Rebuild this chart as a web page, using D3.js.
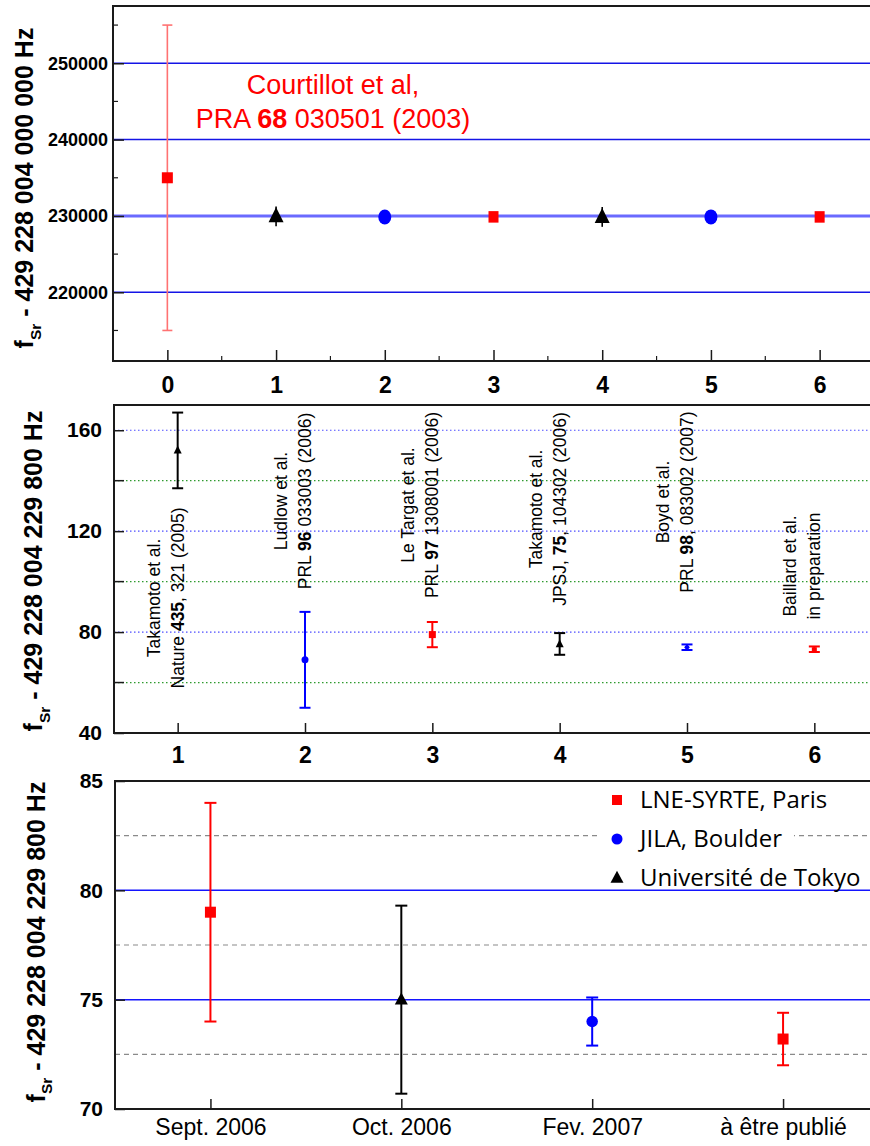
<!DOCTYPE html>
<html><head><meta charset="utf-8">
<script src="https://cdn.jsdelivr.net/npm/d3@7"></script>
<style>body{margin:0;background:#fff}svg{display:block}</style>
</head><body><svg id="c" width="870" height="1146"></svg>
<script>
// ---------- DATA ----------
const topX = [0, 1, 2, 3, 4, 5, 6];
const topValues = [235000, 229952, 229869, 229879, 229875, 229874, 229873];
const topErrors = [20000, 1300, 0, 0, 1300, 0, 0];
const topGroups = ["LNE", "Tokyo", "JILA", "LNE", "Tokyo", "JILA", "LNE"];
const topYTicks = [220000, 230000, 240000, 250000];
const topXTicks = [0, 1, 2, 3, 4, 5, 6];

const midX = [1, 2, 3, 4, 5, 6];
const midValues = [152, 69, 79, 75.3, 74, 73.2];
const midErrors = [15, 19, 5, 4.3, 1.1, 1.1];
const midGroups = ["Tokyo", "JILA", "LNE", "Tokyo", "JILA", "LNE"];
const midYTicks = [40, 80, 120, 160];
const midBlueGrid = [80, 120, 160];
const midGreenGrid = [60, 100, 140];
const midRefLine1 = ["Takamoto et al.", "Ludlow et al.", "Le Targat et al.", "Takamoto et al.", "Boyd et al.", "Baillard et al."];
const midRefLine2 = ["Nature **435**, 321 (2005)", "PRL **96** 033003 (2006)", "PRL **97** 1308001 (2006)", "JPSJ, **75**, 104302 (2006)", "PRL **98**, 083002 (2007)", "in preparation"];

const botCats = ["Sept. 2006", "Oct. 2006", "Fev. 2007", "à être publié"];
const botValues = [79, 75, 74, 73.2];
const botErrors = [5, 4.3, 1.1, 1.2];
const botGroups = ["LNE", "Tokyo", "JILA", "LNE"];
const botYTicks = [70, 75, 80, 85];
const botBlueGrid = [75, 80];
const botGreyGrid = [72.5, 77.5, 82.5];
const botXTicks = [1, 2, 3, 4];

const legendKeys = ["LNE", "JILA", "Tokyo"];
const legendLabels = ["LNE-SYRTE, Paris", "JILA, Boulder", "Université de Tokyo"];

// ---------- STYLE / LAYOUT ----------
const colors = {LNE: "#ff0000", JILA: "#0000ff", Tokyo: "#000000"};
const refCenterY = [598, 501, 505, 509, 502, 566]; // pixel centres of rotated labels
const svg = d3.select("#c");

function marker(g, type, x, y, s, color) {
  if (type === "LNE") {
    g.append("rect").attr("x", x - s.sq[0] / 2).attr("y", y - s.sq[1] / 2)
      .attr("width", s.sq[0]).attr("height", s.sq[1]).attr("fill", color);
  } else if (type === "JILA") {
    g.append("ellipse").attr("cx", x).attr("cy", y).attr("rx", s.ci[0] / 2).attr("ry", s.ci[1] / 2).attr("fill", color);
  } else {
    const w = s.tr[0], h = s.tr[1];
    g.append("path").attr("d", `M${x},${y - h * 0.6}L${x + w / 2},${y + h * 0.4}L${x - w / 2},${y + h * 0.4}Z`).attr("fill", color);
  }
}

function frame(g, L, R, T, B) {
  g.append("rect").attr("x", L).attr("y", T).attr("width", R - L).attr("height", B - T)
    .attr("fill", "none").attr("stroke", "#1a1a1a").attr("stroke-width", 2);
}

function styleAxis(ax, size, weight) {
  ax.select(".domain").remove();
  ax.selectAll("line").attr("stroke", "#1a1a1a").attr("stroke-width", 1.5);
  ax.selectAll("text").attr("font-family", "Liberation Sans, Arial, sans-serif")
    .attr("font-size", size).attr("font-weight", weight).attr("fill", "#000");
}

function yTitle(x, yc, size, rest) {
  const t = svg.append("text").attr("transform", `translate(${x},${yc}) rotate(-90)`)
    .attr("text-anchor", "middle").attr("font-family", "Liberation Sans, Arial, sans-serif")
    .attr("font-weight", "bold").attr("font-size", size);
  t.append("tspan").text("f");
  t.append("tspan").attr("font-size", size * 0.62).attr("dy", size * 0.3).text("Sr");
  t.append("tspan").attr("dy", -size * 0.3).text(" - " + rest);
}

function errBars(g, xs, ys, errs, groups, x, y, capFn, width, colorFn) {
  xs.forEach((d, i) => {
    if (!errs[i]) return;
    const c = colorFn(groups[i]);
    const cap = capFn(i);
    const px = x(d), y1 = y(ys[i] + errs[i]), y2 = y(ys[i] - errs[i]);
    g.append("line").attr("x1", px).attr("x2", px).attr("y1", y1).attr("y2", y2).attr("stroke", c).attr("stroke-width", width);
    if (cap > 0) {
      [y1, y2].forEach(yy => g.append("line").attr("x1", px - cap / 2).attr("x2", px + cap / 2)
        .attr("y1", yy).attr("y2", yy).attr("stroke", c).attr("stroke-width", width));
    }
  });
}

// ---------- TOP PANEL ----------
{
  const L = 113, R = 874, T = 6, B = 361;
  const x = d3.scaleLinear().domain([-0.5, 6.5]).range([L, R]);
  const y = d3.scaleLinear().domain([211000, 257500]).range([B, T]);
  const g = svg.append("g");
  topYTicks.forEach(v => {
    g.append("line").attr("x1", L).attr("x2", R).attr("y1", y(v)).attr("y2", y(v))
      .attr("stroke", v === 230000 ? "#6a6aff" : "#1414e6").attr("stroke-width", v === 230000 ? 3 : 1.5);
  });
  d3.range(215000, 257000, 10000).forEach(v => g.append("line").attr("x1", L).attr("x2", L + 5)
    .attr("y1", y(v)).attr("y2", y(v)).attr("stroke", "#1a1a1a").attr("stroke-width", 1.2));
  d3.range(-0.5, 6.6, 1).forEach(v => g.append("line").attr("x1", x(v)).attr("x2", x(v))
    .attr("y1", B).attr("y2", B - 5).attr("stroke", "#1a1a1a").attr("stroke-width", 1.2));
  const ay = g.append("g").attr("transform", `translate(${L},0)`)
    .call(d3.axisLeft(y).tickValues(topYTicks).tickSize(-11).tickPadding(5).tickFormat(d3.format("d")));
  styleAxis(ay, 18, "bold");
  const ax = g.append("g").attr("transform", `translate(0,${B})`)
    .call(d3.axisBottom(x).tickValues(topXTicks).tickSize(-11).tickPadding(16).tickFormat(d3.format("d")));
  styleAxis(ax, 23, "bold");
  errBars(g, topX, topValues, topErrors, topGroups, x, y, i => topErrors[i] > 5000 ? 10 : 0, 1.6,
    k => k === "LNE" ? "#ff7272" : colors[k]);
  const s = {sq: [11, 11], ci: [13, 15], tr: [15, 15]};
  topX.forEach((d, i) => {
    const sz = (topGroups[i] === "LNE" && i > 0) ? {sq: [10, 11.5]} : s;
    marker(g, topGroups[i], x(d), y(topValues[i]), Object.assign({}, s, sz), colors[topGroups[i]]);
  });
  const ann = g.append("text").attr("text-anchor", "middle").attr("fill", "#ff0000")
    .attr("font-family", "Liberation Sans, Arial, sans-serif").attr("font-size", 27);
  ann.append("tspan").attr("x", 333).attr("y", 94).text("Courtillot et al,");
  ann.append("tspan").attr("x", 333).attr("y", 128).text("PRA ");
  ann.append("tspan").attr("font-weight", "bold").text("68");
  ann.append("tspan").text(" 030501 (2003)");
  frame(g, L, R, T, B);
  yTitle(33, 188, 25, "429 228 004 000 000 Hz");
}

// ---------- MIDDLE PANEL ----------
{
  const L = 114, R = 878, T = 405, B = 733;
  const x = d3.scaleLinear().domain([0.5, 6.5]).range([L, R]);
  const y = d3.scaleLinear().domain([40, 170]).range([B, T]);
  const g = svg.append("g");
  midBlueGrid.forEach(v => g.append("line").attr("x1", L).attr("x2", R).attr("y1", y(v)).attr("y2", y(v))
    .attr("stroke", "#4d4dff").attr("stroke-width", 1.2).attr("stroke-dasharray", "1.5,2.5"));
  midGreenGrid.forEach(v => g.append("line").attr("x1", L).attr("x2", R).attr("y1", y(v)).attr("y2", y(v))
    .attr("stroke", "#2e9a2e").attr("stroke-width", 1.2).attr("stroke-dasharray", "1.5,2.5"));
  d3.range(60, 161, 40).forEach(v => g.append("line").attr("x1", L).attr("x2", L + 10)
    .attr("y1", y(v)).attr("y2", y(v)).attr("stroke", "#1a1a1a").attr("stroke-width", 1.5));
  const ay = g.append("g").attr("transform", `translate(${L},0)`)
    .call(d3.axisLeft(y).tickValues(midYTicks).tickSize(-10).tickPadding(12));
  styleAxis(ay, 21, "bold");
  const ax = g.append("g").attr("transform", `translate(0,${B})`)
    .call(d3.axisBottom(x).tickValues(midX).tickSize(-10).tickPadding(14).tickFormat(d3.format("d")));
  styleAxis(ax, 23, "bold");
  midX.forEach((d, i) => {
    [[midRefLine1[i], -18], [midRefLine2[i], 6]].forEach(([txt, off]) => {
      const t = g.append("text").attr("transform", `translate(${x(d) + off},${refCenterY[i]}) rotate(-90)`)
        .attr("text-anchor", "middle").attr("font-family", "Liberation Sans, Arial, sans-serif")
        .attr("font-size", 17.5).attr("fill", "#000");
      txt.split("**").forEach((part, j) => {
        if (part) t.append("tspan").attr("font-weight", j % 2 ? "bold" : "normal").text(part);
      });
    });
  });
  errBars(g, midX, midValues, midErrors, midGroups, x, y, () => 11, 2, k => colors[k]);
  const s = {sq: [7, 7], ci: [7, 7], tr: [8, 8]};
  midX.forEach((d, i) => {
    const small = midErrors[i] < 2 ? {sq: [5, 4], ci: [5, 4], tr: [5, 4]} : s;
    marker(g, midGroups[i], x(d), y(midValues[i]), small, colors[midGroups[i]]);
  });
  frame(g, L, R, T, B);
  yTitle(42, 571, 25, "429 228 004 229 800 Hz");
}

// ---------- BOTTOM PANEL ----------
{
  const L = 115, R = 878.5, T = 781, B = 1109;
  const x = d3.scaleLinear().domain([0.5, 4.5]).range([L, R]);
  const y = d3.scaleLinear().domain([70, 85]).range([B, T]);
  const g = svg.append("g");
  botGreyGrid.forEach(v => g.append("line").attr("x1", L).attr("x2", R).attr("y1", y(v)).attr("y2", y(v))
    .attr("stroke", "#8a8a8a").attr("stroke-width", 1.2).attr("stroke-dasharray", "5,4"));
  // legend backgrounds go below the solid blue lines
  const lgBg = g.append("g");
  botBlueGrid.forEach(v => g.append("line").attr("x1", L).attr("x2", R).attr("y1", y(v)).attr("y2", y(v))
    .attr("stroke", "#1414ff").attr("stroke-width", 1.5));
  const ay = g.append("g").attr("transform", `translate(${L},0)`)
    .call(d3.axisLeft(y).tickValues(botYTicks).tickSize(-10).tickPadding(12));
  styleAxis(ay, 21, "bold");
  const ax = g.append("g").attr("transform", `translate(0,${B})`)
    .call(d3.axisBottom(x).tickValues(botXTicks).tickSize(-10).tickPadding(10).tickFormat((d, i) => botCats[i]));
  styleAxis(ax, 23, "normal");
  errBars(g, botXTicks, botValues, botErrors, botGroups, x, y, () => 12, 2, k => colors[k]);
  const s = {sq: [11, 11], ci: [11.5, 11.5], tr: [13, 12]};
  botXTicks.forEach((d, i) => marker(g, botGroups[i], x(d), y(botValues[i]), s, colors[botGroups[i]]));
  const lg = g.append("g");
  const ls = {sq: [10, 10], ci: [11, 11], tr: [13, 12]};
  legendKeys.forEach((k, i) => {
    const cy = 800 + i * 39;
    const t = lg.append("text").attr("x", 640).attr("y", cy + 8).attr("font-family", "Open Sans, sans-serif")
      .attr("font-size", 24).attr("fill", "#000").text(legendLabels[i]);
    const w = t.node().getComputedTextLength();
    lgBg.append("rect").attr("x", 598).attr("y", cy - 17).attr("width", 640 + w + 12 - 598).attr("height", 30).attr("fill", "#fff");
    marker(lg, k, 617, cy, ls, colors[k]);
  });
  frame(g, L, R, T, B);
  yTitle(44.5, 942, 25, "429 228 004 229 800 Hz");
}
</script></body></html>
